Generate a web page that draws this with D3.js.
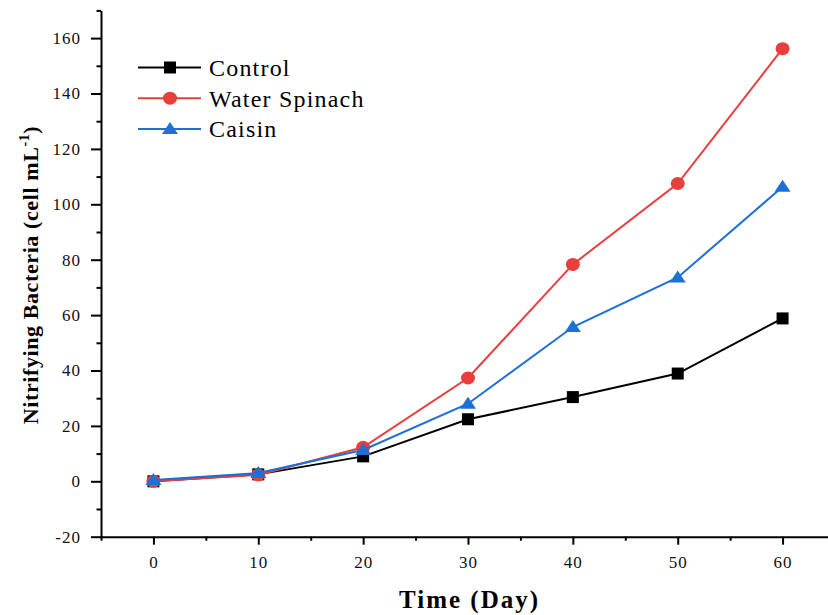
<!DOCTYPE html>
<html>
<head>
<meta charset="utf-8">
<script src="https://cdn.jsdelivr.net/npm/d3@7"></script>
<style>
    body { margin: 0; background: #fff; }
</style>
</head>
<body>
<svg id="chart" width="828" height="615"></svg>
<script>
var days = [0, 10, 20, 30, 40, 50, 60];
var control = [0, 2.5, 9, 22.4, 30.4, 38.9, 58.8];
var waterSpinach = [0, 2.3, 12.3, 37.3, 78.3, 107.5, 156.2];
var caisin = [0.5, 3, 11.3, 28, 55.7, 73.6, 106.3];
var seriesNames = ['Control', 'Water Spinach', 'Caisin'];
var xTicks = [0, 10, 20, 30, 40, 50, 60];
var yTicks = [-20, 0, 20, 40, 60, 80, 100, 120, 140, 160];

var serif = '"Times New Roman", Times, "Liberation Serif", Tinos, "Nimbus Roman", "DejaVu Serif", "Noto Serif", serif';
var colors = { 'Control': '#000000', 'Water Spinach': '#e83e3c', 'Caisin': '#1e6fd6' };
var shapes = { 'Control': 'square', 'Water Spinach': 'circle', 'Caisin': 'triangle' };

var svg = d3.select('svg#chart');

var x = d3.scaleLinear().domain([-5, 65]).range([101, 835]);
var y = d3.scaleLinear().domain([-20, 170]).range([536.7, 10.4]);

function drawMarker(g, shape, color) {
    if (shape === 'square') {
        g.append('rect').attr('x', -6).attr('y', -6).attr('width', 12).attr('height', 12).attr('fill', color);
    } else if (shape === 'circle') {
        g.append('ellipse').attr('rx', 7).attr('ry', 6.5).attr('fill', color);
    } else {
        g.append('path').attr('d', 'M0,-7L8,5L-8,5Z').attr('fill', color);
    }
}

function plain(d) { return String(d); }

// minor ticks first, majors on top
var xMinor = d3.range(-5, 66, 10);
var yMinor = d3.range(-10, 171, 20);

svg.append('g')
    .attr('transform', 'translate(0,' + y(-20) + ')')
    .call(d3.axisBottom(x).tickValues(xMinor).tickSize(4).tickFormat(''))
    .call(function(g) { g.select('.domain').remove(); })
    .selectAll('line').attr('stroke-width', 2);

svg.append('g')
    .attr('transform', 'translate(' + x(-5) + ',0)')
    .call(d3.axisLeft(y).tickValues(yMinor).tickSize(4.5).tickFormat(''))
    .call(function(g) { g.select('.domain').remove(); })
    .selectAll('line').attr('stroke-width', 2);

var xAxis = svg.append('g')
    .attr('transform', 'translate(0,' + y(-20) + ')')
    .call(d3.axisBottom(x).tickValues(xTicks).tickSize(8).tickPadding(11).tickSizeOuter(0).tickFormat(plain));
xAxis.select('.domain').attr('stroke-width', 2);
xAxis.selectAll('line').attr('stroke-width', 2);
xAxis.selectAll('text')
    .style('font-family', serif).style('font-weight', 'normal')
    .attr('font-size', 17).attr('letter-spacing', 1).attr('fill', '#111');

var yAxis = svg.append('g')
    .attr('transform', 'translate(' + x(-5) + ',0)')
    .call(d3.axisLeft(y).tickValues(yTicks).tickSize(10).tickPadding(10).tickSizeOuter(0).tickFormat(plain));
yAxis.select('.domain').attr('stroke-width', 2);
yAxis.selectAll('line').attr('stroke-width', 2);
yAxis.selectAll('text')
    .style('font-family', serif).style('font-weight', 'normal')
    .attr('font-size', 17).attr('letter-spacing', 1).attr('fill', '#111');

// axis titles
svg.append('text')
    .attr('x', (x(-5) + 828) / 2 + 5)
    .attr('y', 608)
    .attr('text-anchor', 'middle')
    .style('font-family', serif)
    .attr('font-size', 25)
    .attr('font-weight', 'bold')
    .attr('letter-spacing', 2)
    .text('Time (Day)');

var yTitle = svg.append('text')
    .attr('transform', 'translate(38,275) rotate(-90)')
    .attr('text-anchor', 'middle')
    .style('font-family', serif)
    .attr('font-size', 22)
    .attr('font-weight', 'bold')
    .attr('letter-spacing', 0.6);
yTitle.append('tspan').text('Nitrifying Bacteria (cell mL');
yTitle.append('tspan').attr('font-size', 14).attr('dy', -9).text('-1');
yTitle.append('tspan').attr('dy', 9).text(')');

// series
var seriesData = [control, waterSpinach, caisin];
var line = d3.line()
    .x(function(d) { return x(d.day); })
    .y(function(d) { return y(d.value); });

seriesNames.forEach(function(name, i) {
    var pts = days.map(function(d, j) { return { day: d, value: seriesData[i][j] }; });
    var g = svg.append('g').attr('class', 'series');
    g.append('path')
        .datum(pts)
        .attr('d', line)
        .attr('fill', 'none')
        .attr('stroke', colors[name])
        .attr('stroke-width', 2);
    g.selectAll('.pt')
        .data(pts)
        .enter().append('g')
            .attr('class', 'pt')
            .attr('transform', function(d) { return 'translate(' + x(d.day) + ',' + y(d.value) + ')'; })
            .each(function() { drawMarker(d3.select(this), shapes[name], colors[name]); });
});

// legend
var legend = svg.append('g').attr('transform', 'translate(138,67.5)');
seriesNames.forEach(function(name, i) {
    var row = legend.append('g').attr('transform', 'translate(0,' + (i * 30.7) + ')');
    row.append('line')
        .attr('x1', 0).attr('x2', 63)
        .attr('stroke', colors[name])
        .attr('stroke-width', 2);
    drawMarker(row.append('g').attr('transform', 'translate(32,0)'), shapes[name], colors[name]);
    row.append('text')
        .attr('x', 71)
        .attr('dy', '0.35em')
        .style('font-family', serif)
        .style('font-weight', 'normal')
        .attr('font-size', 24)
        .attr('letter-spacing', 1.2)
        .text(name);
});
</script>
</body>
</html>
